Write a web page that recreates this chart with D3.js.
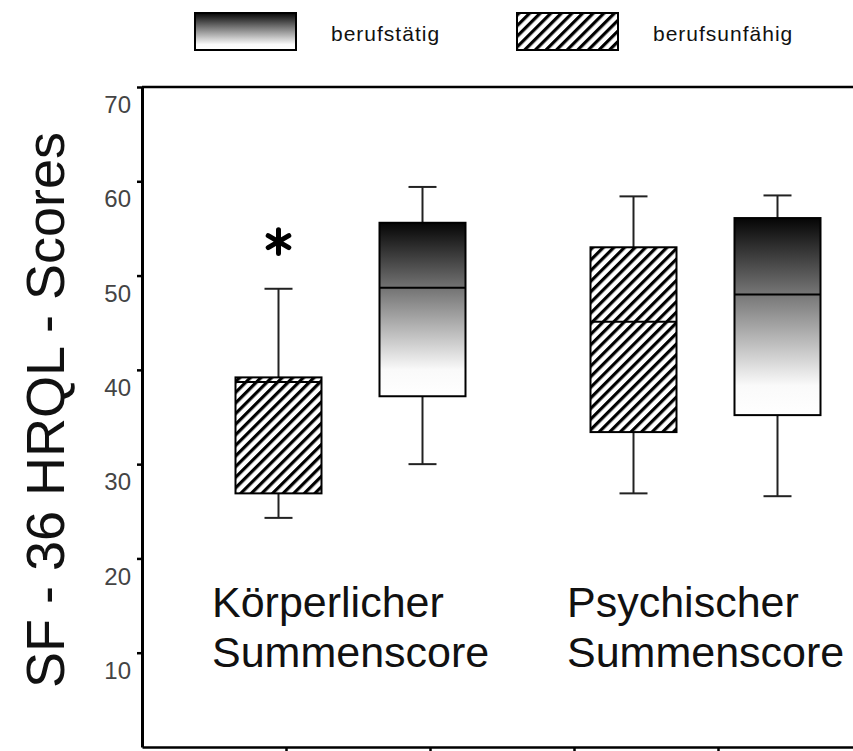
<!DOCTYPE html>
<html>
<head>
<meta charset="utf-8">
<script src="https://cdn.jsdelivr.net/npm/d3@7"></script>
<style>
body { margin:0; background:#fff; }
text { font-family: "Liberation Sans", Arial, sans-serif; }
</style>
</head>
<body>
<script>
var groups = ["Körperlicher Summenscore", "Psychischer Summenscore"];
var series = ["berufsunfähig", "berufstätig"];
var legendOrder = ["berufstätig", "berufsunfähig"];

// one entry per box: K/unfähig, K/tätig, P/unfähig, P/tätig
var boxGroup  = [0, 0, 1, 1];
var boxSeries = [0, 1, 0, 1];
var lowWhisker  = [24.3, 30.0, 26.9, 26.6];
var q1          = [26.9, 37.2, 33.4, 35.2];
var median      = [38.7, 48.7, 45.1, 48.0];
var q3          = [39.2, 55.6, 53.0, 56.1];
var highWhisker = [48.6, 59.4, 58.4, 58.5];

var yTicks = [10, 20, 30, 40, 50, 60, 70];
var xTicks = [1, 2, 3, 4];
var star = [{ box:0, value:53.6 }];

var W = 853, H = 751;

var svg = d3.select("body")
    .append("svg")
    .attr("width", W)
    .attr("height", H)
    .attr("viewBox", "0 0 "+W+" "+H);

var defs = svg.append("defs");

var grad = defs.append("linearGradient")
    .attr("id", "grad")
    .attr("x1", 0).attr("y1", 0).attr("x2", 0).attr("y2", 1);
grad.append("stop").attr("offset", "0%").attr("stop-color", "#050505");
grad.append("stop").attr("offset", "40%").attr("stop-color", "#7a7a7a");
grad.append("stop").attr("offset", "85%").attr("stop-color", "#fafafa");
grad.append("stop").attr("offset", "100%").attr("stop-color", "#ffffff");

var hatch = defs.append("pattern")
    .attr("id", "hatch")
    .attr("patternUnits", "userSpaceOnUse")
    .attr("width", 7.5).attr("height", 7.5)
    .attr("patternTransform", "rotate(45)");
hatch.append("rect").attr("width", 7.5).attr("height", 7.5).attr("fill", "#fff");
hatch.append("line")
    .attr("x1", 1.6).attr("y1", 0).attr("x2", 1.6).attr("y2", 7.5)
    .attr("stroke", "#000").attr("stroke-width", 3.2);

var fills = { "berufstätig":"url(#grad)", "berufsunfähig":"url(#hatch)" };

var y = d3.scaleLinear().domain([0, 70]).range([747, 87]);
var xTick = d3.scaleLinear().domain([0, 5]).range([142, 862]);

var outer = d3.scaleBand().domain(groups).range([173, 883]);
var inner = d3.scaleBand().domain(series)
    .range([outer.bandwidth()/2 - 144, outer.bandwidth()/2 + 144]);
var boxW = 86, capW = 28;

function cx(i){
	return outer(groups[boxGroup[i]]) + inner(series[boxSeries[i]]) + inner.bandwidth()/2;
}

// axes
var yAxis = svg.append("g")
    .attr("transform", "translate(142,0)")
    .call(d3.axisLeft(y).tickValues(yTicks).tickSize(5).tickSizeOuter(0));
yAxis.select(".domain").attr("stroke-width", 3).attr("stroke", "#000");
yAxis.selectAll(".tick line").attr("stroke-width", 2.5).attr("stroke", "#000");
yAxis.selectAll(".tick text")
    .attr("x", -11).attr("y", 18)
    .attr("fill", "#444")
    .style("font-family", "'Liberation Sans', Arial, sans-serif")
    .style("font-size", "24px");

var xAxis = svg.append("g")
    .attr("transform", "translate(0,747)")
    .call(d3.axisBottom(xTick).tickValues(xTicks).tickSize(5).tickSizeOuter(0).tickFormat(""));
xAxis.select(".domain").attr("stroke-width", 2.5).attr("stroke", "#000");
xAxis.selectAll(".tick line").attr("stroke-width", 2.5).attr("stroke", "#000");

svg.append("line")
    .attr("x1", 142).attr("x2", W)
    .attr("y1", y(70)).attr("y2", y(70))
    .attr("stroke", "#000").attr("stroke-width", 2.5);

// boxes
var idx = d3.range(q1.length);
var box = svg.selectAll(".box").data(idx)
	.enter().append("g")
	.attr("class", "box");

box.append("line")
	.attr("x1", cx).attr("x2", cx)
	.attr("y1", function(i){ return y(q3[i]); })
	.attr("y2", function(i){ return y(highWhisker[i]); })
	.attr("stroke", "#222").attr("stroke-width", 2);
box.append("line")
	.attr("x1", cx).attr("x2", cx)
	.attr("y1", function(i){ return y(q1[i]); })
	.attr("y2", function(i){ return y(lowWhisker[i]); })
	.attr("stroke", "#222").attr("stroke-width", 2);
box.append("line")
	.attr("x1", function(i){ return cx(i) - capW/2; })
	.attr("x2", function(i){ return cx(i) + capW/2; })
	.attr("y1", function(i){ return y(highWhisker[i]); })
	.attr("y2", function(i){ return y(highWhisker[i]); })
	.attr("stroke", "#222").attr("stroke-width", 2);
box.append("line")
	.attr("x1", function(i){ return cx(i) - capW/2; })
	.attr("x2", function(i){ return cx(i) + capW/2; })
	.attr("y1", function(i){ return y(lowWhisker[i]); })
	.attr("y2", function(i){ return y(lowWhisker[i]); })
	.attr("stroke", "#222").attr("stroke-width", 2);

box.append("rect")
	.attr("x", function(i){ return cx(i) - boxW/2; })
	.attr("width", boxW)
	.attr("y", function(i){ return y(q3[i]); })
	.attr("height", function(i){ return y(q1[i]) - y(q3[i]); })
	.attr("fill", function(i){ return fills[series[boxSeries[i]]]; })
	.attr("stroke", "#000").attr("stroke-width", 2);

box.append("line")
	.attr("x1", function(i){ return cx(i) - boxW/2; })
	.attr("x2", function(i){ return cx(i) + boxW/2; })
	.attr("y1", function(i){ return y(median[i]); })
	.attr("y2", function(i){ return y(median[i]); })
	.attr("stroke", "#000").attr("stroke-width", 2);

// significance marker
svg.selectAll(".star").data(star)
	.enter().append("path")
	.attr("class", "star")
	.attr("transform", function(d){ return translate(cx(d.box), y(d.value)); })
	.attr("d", d3.symbol(d3.symbolAsterisk, 400)())
	.attr("fill", "none")
	.attr("stroke", "#000")
	.attr("stroke-width", 5)
	.attr("stroke-linecap", "round");

// group labels
var gl = svg.selectAll(".glabel").data(groups)
	.enter().append("text")
	.attr("class", "glabel")
	.attr("x", function(d){ return outer(d) + 39; })
	.attr("y", 617)
	.style("font-size", "43px")
	.attr("fill", "#111");
gl.selectAll("tspan").data(function(d){ return d.split(" "); })
	.enter().append("tspan")
	.attr("x", function(){ return d3.select(this.parentNode).attr("x"); })
	.attr("dy", function(d, i){ return i ? 50 : 0; })
	.text(function(d){ return d; });

// y title
svg.append("text")
	.attr("transform", "translate(64,410) rotate(-90)")
	.attr("text-anchor", "middle")
	.style("font-size", "54px")
	.attr("fill", "#111")
	.text("SF - 36 HRQL - Scores");

// legend
var legX = { "berufstätig":195, "berufsunfähig":517 };
var leg = svg.selectAll(".leg").data(legendOrder)
	.enter().append("g")
	.attr("class", "leg")
	.attr("transform", function(d){ return translate(legX[d], 13); });
leg.append("rect")
	.attr("width", 101).attr("height", 37)
	.attr("fill", function(d){ return fills[d]; })
	.attr("stroke", "#000").attr("stroke-width", 2);
leg.append("text")
	.attr("x", 136).attr("y", 28)
	.style("font-size", "21px")
	.style("letter-spacing", "1px")
	.attr("fill", "#111")
	.text(function(d){ return d; });

function translate(x,y){
	return "translate("+x+","+y+")";
}
</script>
</body>
</html>
